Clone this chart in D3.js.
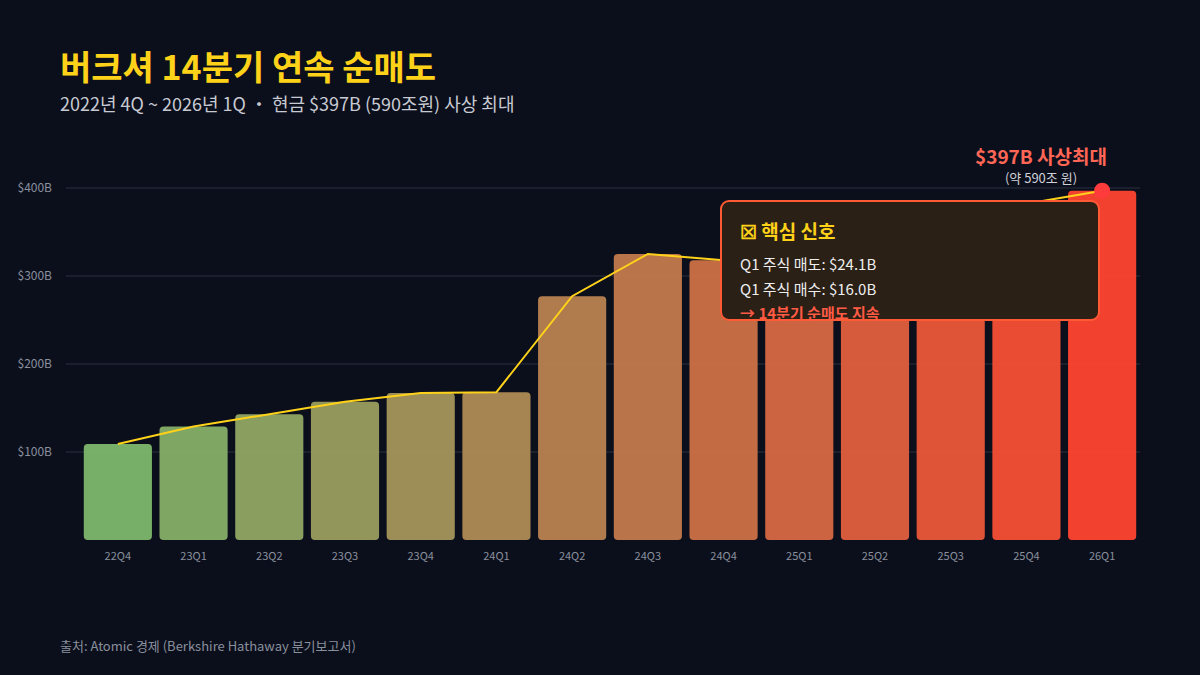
<!DOCTYPE html><html><head><meta charset="utf-8"><script src="https://cdn.jsdelivr.net/npm/d3@7"></script>
<style>body{margin:0;background:#0b0f1c}text{font-family:"Noto Sans CJK KR","Noto Sans",sans-serif}</style></head><body>
<svg id="c" width="1200" height="675"></svg>
<script>
const quarters=["22Q4","23Q1","23Q2","23Q3","23Q4","24Q1","24Q2","24Q3","24Q4","25Q1","25Q2","25Q3","25Q4","26Q1"];
const cash=[109,129,143,157,167,168,277,325,318,334,344,348,382,397];
const yTicks=[100,200,300,400];
const svg=d3.select("#c");
svg.append("rect").attr("width",1200).attr("height",675).attr("fill","#0b0f1c");
const x=d3.scaleBand().domain(quarters).range([80,1140]).paddingInner(0.1).paddingOuter(0.05);
const y=d3.scaleLinear().domain([0,400]).range([540,188]);
const col=d3.scaleLinear().domain([0,quarters.length-1]).range(["#7db86d","#ff4630"]).interpolate(d3.interpolateRgb);
const g=svg.append("g");
yTicks.forEach(t=>{g.append("line").attr("x1",66).attr("x2",1140).attr("y1",y(t)).attr("y2",y(t)).attr("stroke","#2a3040").attr("stroke-width",1);
g.append("text").attr("x",52).attr("y",y(t)+4).attr("text-anchor","end").attr("fill","#8a8f9c").attr("font-size",12).text("$"+t+"B");});
g.selectAll(".b").data(cash).enter().append("rect").attr("x",(d,i)=>x(quarters[i])).attr("y",d=>y(d)).attr("width",x.bandwidth()).attr("height",d=>540-y(d)).attr("rx",4).attr("fill",(d,i)=>col(i)).attr("opacity",0.95);
g.selectAll(".xl").data(quarters).enter().append("text").attr("x",d=>x(d)+x.bandwidth()/2).attr("y",560).attr("text-anchor","middle").attr("fill","#8a8f9c").attr("font-size",11).text(d=>d);
const line=d3.line().x((d,i)=>x(quarters[i])+x.bandwidth()/2).y(d=>y(d));
g.append("path").datum(cash).attr("d",line).attr("fill","none").attr("stroke","#ffd21a").attr("stroke-width",2);
const li=cash.length-1;
g.append("circle").attr("cx",x(quarters[li])+x.bandwidth()/2).attr("cy",y(cash[li])).attr("r",8).attr("fill","#ff3b3b");
g.append("text").attr("x",1041).attr("y",164).attr("text-anchor","middle").attr("fill","#ff6655").attr("font-size",19).attr("font-weight",700).text("$397B 사상최대");
g.append("text").attr("x",1041).attr("y",183).attr("text-anchor","middle").attr("fill","#d0d0d8").attr("font-size",13).text("(약 590조 원)");
// tooltip box
g.append("rect").attr("x",721).attr("y",201).attr("width",378).attr("height",119).attr("rx",8).attr("fill","#2a2016").attr("stroke","#ff5a33").attr("stroke-width",2);
g.append("text").attr("x",740).attr("y",239).attr("fill","#ffd21a").attr("font-size",19).attr("font-weight",700).text("☒ 핵심 신호");
g.append("text").attr("x",740).attr("y",270).attr("fill","#eeeeee").attr("font-size",15).text("Q1 주식 매도: $24.1B");
g.append("text").attr("x",740).attr("y",295).attr("fill","#eeeeee").attr("font-size",15).text("Q1 주식 매수: $16.0B");
g.append("text").attr("x",740).attr("y",319).attr("fill","#ff5a44").attr("font-size",15).attr("font-weight",700).text("→ 14분기 순매도 지속");
svg.append("text").attr("x",60).attr("y",80).attr("fill","#ffd21a").attr("font-size",34).attr("font-weight",700).text("버크셔 14분기 연속 순매도");
svg.append("text").attr("x",60).attr("y",111).attr("fill","#c8cad2").attr("font-size",18).text("2022년 4Q ~ 2026년 1Q  ・  현금 $397B (590조원) 사상 최대");
svg.append("text").attr("x",60).attr("y",651).attr("fill","#8a8f9c").attr("font-size",13).text("출처: Atomic 경제 (Berkshire Hathaway 분기보고서)");
</script></body></html>
